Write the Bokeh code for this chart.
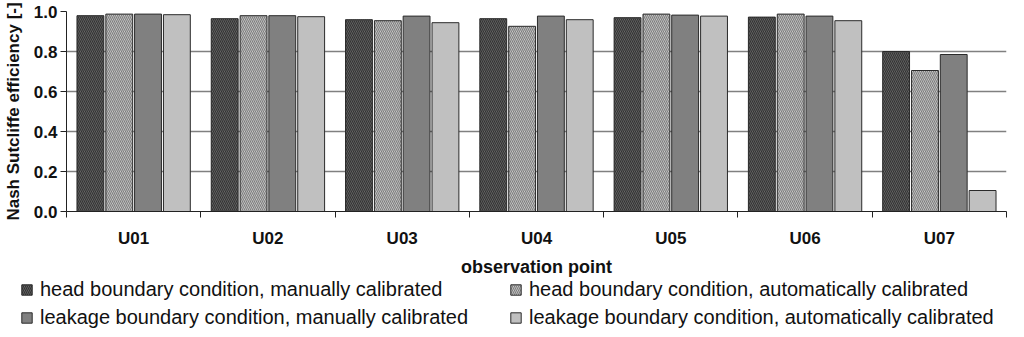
from bokeh.plotting import figure
from bokeh.layouts import column
from bokeh.models import (Range1d, FixedTicker, Legend, LegendItem, ColumnDataSource,
                          PrintfTickFormatter)
from bokeh.embed import file_html
from bokeh.resources import INLINE

stations = ["U01", "U02", "U03", "U04", "U05", "U06", "U07"]
head_manual = [0.979, 0.964, 0.959, 0.964, 0.969, 0.972, 0.800]
head_auto = [0.987, 0.979, 0.954, 0.926, 0.987, 0.987, 0.705]
leak_manual = [0.987, 0.979, 0.977, 0.977, 0.982, 0.977, 0.785]
leak_auto = [0.984, 0.974, 0.944, 0.959, 0.977, 0.954, 0.105]
series_labels = [
    "head boundary condition, manually calibrated",
    "head boundary condition, automatically calibrated",
    "leakage boundary condition, manually calibrated",
    "leakage boundary condition, automatically calibrated",
]
y_ticks = [0.0, 0.2, 0.4, 0.6, 0.8, 1.0]

series = [head_manual, head_auto, leak_manual, leak_auto]
offsets = [-0.322, -0.107, 0.107, 0.322]
styles = [
    dict(fill_color="#6e6e6e", hatch_pattern="\\", hatch_color="#333333", hatch_scale=4, hatch_weight=1.2),
    dict(fill_color="#d4d4d4", hatch_pattern="\\", hatch_color="#7e7e7e", hatch_scale=4, hatch_weight=1.2),
    dict(fill_color="#808080"),
    dict(fill_color="#c0c0c0"),
]

FONT = "Liberation Sans"
TXT = "#111111"

p = figure(width=1008, height=279, output_backend="svg", toolbar_location=None,
           x_range=Range1d(0, 7), y_range=Range1d(0, 1.0),
           min_border_left=58, min_border_right=2, min_border_top=11, min_border_bottom=65)
p.outline_line_color = None
p.frame_align = False

centers = [i + 0.5 for i in range(len(stations))]
for vals, off, st in zip(series, offsets, styles):
    src = ColumnDataSource(dict(x=[c + off for c in centers], top=vals))
    p.vbar(x="x", top="top", bottom=0, width=0.2, source=src,
           line_color="#2a2a2a", line_width=1, **st)

# y axis
yax = p.yaxis[0]
yax.ticker = FixedTicker(ticks=y_ticks)
yax.formatter = PrintfTickFormatter(format="%.1f")
yax.major_label_text_font = FONT
yax.major_label_text_font_style = "bold"
yax.major_label_text_font_size = "17px"
yax.major_label_text_color = TXT
yax.major_label_standoff = 3
yax.major_tick_out = 6
yax.major_tick_in = 0
yax.minor_tick_out = 0
yax.minor_tick_in = 0
yax.axis_line_color = "#222222"
yax.major_tick_line_color = "#222222"
yax.axis_label = "Nash Sutcliffe efficiency [-]"
yax.axis_label_text_font = FONT
yax.axis_label_text_font_style = "bold"
yax.axis_label_text_font_size = "17px"
yax.axis_label_text_color = TXT
yax.axis_label_standoff = 8

p.ygrid.ticker = FixedTicker(ticks=y_ticks)
p.ygrid.grid_line_color = "#808080"
p.ygrid.grid_line_width = 1.5
p.xgrid.grid_line_color = None

# x axis: labels at category centers, tick marks at category boundaries (minor ticks)
xax = p.xaxis[0]
xax.ticker = FixedTicker(ticks=centers, minor_ticks=list(range(len(stations) + 1)))
xax.major_label_overrides = {c: s for c, s in zip(centers, stations)}
xax.major_tick_out = 0
xax.major_tick_in = 0
xax.minor_tick_out = 6
xax.minor_tick_in = 0
xax.minor_tick_line_color = "#222222"
xax.axis_line_color = "#222222"
xax.major_label_text_font = FONT
xax.major_label_text_font_style = "bold"
xax.major_label_text_font_size = "17px"
xax.major_label_text_color = TXT
xax.major_label_standoff = 11
xax.axis_label = "observation point"
xax.axis_label_text_font = FONT
xax.axis_label_text_font_style = "bold"
xax.axis_label_text_font_size = "18px"
xax.axis_label_text_color = TXT
xax.axis_label_standoff = 6

# legend strip below the chart (its renderers hold one bar placed outside the view)
q = figure(width=1008, height=50, output_backend="svg", toolbar_location=None,
           x_range=Range1d(0, 1), y_range=Range1d(0, 1),
           min_border_left=0, min_border_right=0, min_border_top=0, min_border_bottom=0,
           x_axis_type=None, y_axis_type=None)
q.outline_line_color = None
q.frame_align = False
q.xgrid.grid_line_color = None
q.ygrid.grid_line_color = None
legend_renderers = []
for st in styles:
    src = ColumnDataSource(dict(x=[1.5], top=[-0.5], bottom=[-1.0]))
    r = q.vbar(x="x", top="top", bottom="bottom", width=0.2, source=src,
               line_color="#2a2a2a", line_width=1, **st)
    legend_renderers.append(r)
items = [LegendItem(label=lab, renderers=[r]) for lab, r in zip(series_labels, legend_renderers)]
legend = Legend(items=[items[0], items[2], items[1], items[3]], location=(20, 0),
                orientation="vertical", ncols=2,
                glyph_width=13, glyph_height=13, label_height=22, label_width=464,
                label_standoff=7, spacing=5, padding=0, margin=0,
                border_line_color=None, background_fill_alpha=0,
                label_text_font=FONT, label_text_font_size="20px", label_text_color=TXT)
q.add_layout(legend, "center")

layout = column(p, q, spacing=0)
open("out.html", "w").write(file_html(layout, INLINE))
